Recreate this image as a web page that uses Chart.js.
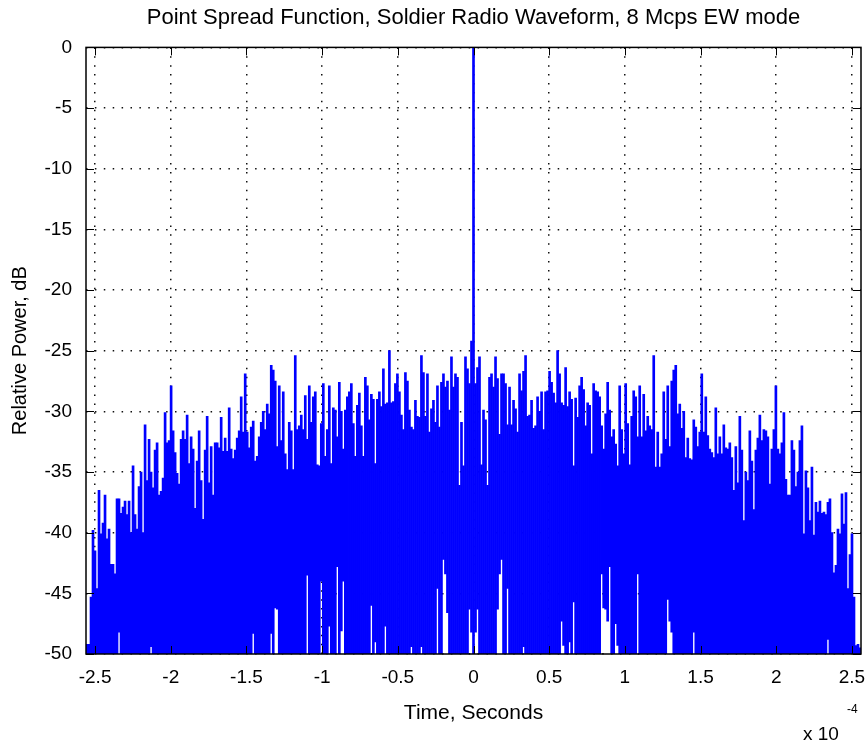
<!DOCTYPE html>
<html>
<head>
<meta charset="utf-8">
<title>Point Spread Function</title>
<script src="https://cdn.jsdelivr.net/npm/chart.js@4.4.1/dist/chart.umd.min.js"></script>
<style>
    html, body { margin: 0; padding: 0; background: #fff; }
    #wrap { width: 866px; height: 742px; }
</style>
</head>
<body>
<div id="wrap"><canvas id="psf"></canvas></div>
<script>
// time in units of 1e-4 s, power in dB
const timeMin = -2.56;
const timeMax = 2.56;
const timeTicks = [-2.5, -2, -1.5, -1, -0.5, 0, 0.5, 1, 1.5, 2, 2.5];
const powerTicks = [0, -5, -10, -15, -20, -25, -30, -35, -40, -45, -50];
const floorDb = -50;

// peak envelope, read left to right (about 2 px per sample)
const leftPeaks = [
    -49.2, -49.2, -45.3, -39.8, -41.5, -44.6, -36.5, -40.1, -39.2, -36.9,
    -40.5, -39.7, -42.6, -42.6, -43.4, -37.2, -37.2, -38.4, -37.9, -37.4,
    -38.5, -37.4, -40.0, -34.5, -38.5, -39.7, -36.2, -35.0, -40.0, -31.1,
    -35.7, -32.3, -35.0, -36.3, -33.2, -32.6, -36.9, -36.6, -35.5, -30.1,
    -32.6, -32.4, -27.9, -31.6, -33.4, -35.1, -36.0, -32.3, -31.6, -32.3,
    -30.3, -34.3, -32.1, -33.1, -38.0, -34.1, -31.6, -35.7, -38.9, -33.2,
    -30.4, -35.9, -32.9, -36.9, -32.6,
    -32.6, -33.0, -30.5, -33.3, -32.2, -33.3, -29.7, -33.1, -33.9, -33.2,
    -32.2, -31.6, -28.8, -31.7, -26.9, -31.7, -33.0, -31.3, -30.8, -34.1,
    -33.7, -32.1, -30.9, -30.0, -31.5, -29.4, -30.2, -26.2, -26.6, -27.5,
    -32.9, -27.9, -32.4, -28.4, -33.5, -34.8, -30.9, -31.6, -34.8, -25.4,
    -31.5, -31.2, -30.3, -31.5, -28.7, -32.3, -27.9, -30.9, -28.8, -28.4,
    -34.4, -34.5, -31.0, -27.7, -33.7, -31.5, -27.9, -34.3, -29.7, -29.9,
    -32.1, -27.6, -30.0, -33.1, -29.9,
    -28.8, -28.4, -27.7, -31.0, -33.7, -29.5, -28.5, -31.2, -33.7, -27.2,
    -27.9, -30.7, -28.6, -29.0, -34.3, -29.0, -28.4, -29.6, -26.5, -29.4,
    -29.3, -25.0, -29.3, -29.2, -27.7, -26.9, -28.4, -30.3, -31.5, -26.8,
    -27.5, -29.9, -31.3, -31.5, -29.1, -30.4, -30.5, -25.4, -26.8, -30.4,
    -26.9, -31.7, -29.8, -29.1, -30.9, -27.9, -31.3, -27.6, -26.9, -28.0,
    -27.5, -29.9, -25.5, -28.0, -26.9, -27.2, -36.1, -30.9, -34.5, -25.5,
    -26.5, -27.7, -24.2
];
const centrePeak = 0;
const rightPeaks = [
    -27.7, -26.4, -25.5, -34.4, -29.9, -30.7, -36.1, -27.2, -26.9, -28.0,
    -25.5, -27.3, -31.9, -26.9, -26.9, -27.7, -31.1, -28.0, -31.1, -29.1,
    -29.8, -31.7, -26.9, -28.3, -26.7, -25.4, -30.4, -30.3, -29.1, -31.4,
    -31.2, -28.8, -30.0, -28.4, -31.5, -28.4, -28.3, -26.7, -27.6, -28.5,
    -29.3, -25.0, -26.9, -29.3, -29.5, -26.4, -29.6, -28.4, -29.0, -34.5,
    -28.9, -30.5, -27.9, -27.2, -28.2, -31.2, -29.3, -29.5, -33.5, -27.7,
    -28.3, -28.4, -28.8, -31.2, -33.1, -30.2,
    -27.6, -29.9, -32.1, -31.5, -32.7, -34.5, -27.9, -31.5, -33.5, -27.7,
    -31.0, -34.4, -30.4, -28.3, -28.8, -32.1, -27.9, -32.1, -28.6, -31.6,
    -30.4, -31.2, -31.5, -25.4, -34.6, -31.7, -34.6, -33.5, -28.4, -32.3,
    -27.9, -32.9, -27.5, -26.6, -26.2, -30.2, -29.4, -31.4, -30.0, -33.8,
    -32.2, -33.9, -34.0, -30.7, -31.3, -32.9, -31.7, -26.9, -31.7, -28.8,
    -32.0, -33.1, -33.4, -33.8, -29.7, -33.5, -32.1, -33.5, -31.1, -33.0,
    -33.1, -32.6, -33.8, -36.5, -32.9,
    -35.9, -30.4, -33.2, -39.0, -35.0, -35.7, -31.6, -34.1, -38.1, -33.2,
    -32.2, -30.3, -32.4, -31.5, -31.6, -32.1, -36.0, -33.1, -31.5, -27.9,
    -33.1, -33.5, -32.6, -30.1, -35.6, -36.9, -36.9, -32.4, -33.2, -36.2,
    -35.0, -32.4, -31.2, -40.1, -34.9, -36.3, -39.0, -34.6, -40.2, -37.5,
    -38.3, -37.4, -38.4, -38.3, -38.5, -37.5, -37.2, -40.0, -43.3, -42.7,
    -39.7, -40.1, -36.8, -39.3, -36.7, -44.6, -41.8, -40.1, -45.3, -49.3,
    -49.2, -49.5
];

// samples whose trough stays above the floor (white notches at the bottom)
const notchIndex = [
    16, 32, 83, 92, 94, 95, 110, 117, 121, 125, 127, 128, 142, 144, 149,
    162, 167, 175, 178, 179, 180, 191, 192,
    194, 195, 205, 206, 207, 210, 218, 237, 238, 241, 243, 257, 258, 259,
    260, 261, 264, 265, 275, 290, 291, 292, 303, 370
];
const notchFloor = [
    -48.2, -49.4, -48.3, -48.3, -46.2, -46.3, -43.5, -44.0, -47.7, -42.8, -48.1, -44.0, -46.0, -49.0, -47.7,
    -49.4, -49.4, -44.6, -42.2, -43.4, -46.6, -46.3, -48.2,
    -48.2, -46.3, -46.3, -43.4, -42.2, -44.6, -49.4, -47.3, -49.3, -49.0, -45.7, -43.4, -46.2, -46.3,
    -47.3, -42.8, -47.5, -49.3, -43.4, -45.5, -47.3, -48.2, -48.2, -48.8
];

const peaks = [...leftPeaks, centrePeak, ...rightPeaks];
const lows = peaks.map(() => floorDb);
notchIndex.forEach((idx, k) => { lows[idx] = notchFloor[k]; });
const bars = peaks.map((p, i) => [lows[i], p]);

const FONT = "'Liberation Sans', Arial, Helvetica, sans-serif";

// MATLAB-style box with inward ticks, plus the x10^-4 exponent
const axesBox = {
    id: "axesBox",
    afterDraw(chart) {
        const { ctx, chartArea: a, scales } = chart;
        ctx.save();
        ctx.strokeStyle = "#000";
        ctx.lineWidth = 1.5;
        ctx.strokeRect(a.left, a.top, a.right - a.left, a.bottom - a.top);
        ctx.beginPath();
        timeTicks.forEach((v) => {
            const x = Math.round(scales.time.getPixelForValue(v)) + 0.5;
            ctx.moveTo(x, a.bottom); ctx.lineTo(x, a.bottom - 8);
            ctx.moveTo(x, a.top); ctx.lineTo(x, a.top + 8);
        });
        powerTicks.forEach((v) => {
            const y = Math.round(scales.y.getPixelForValue(v)) + 0.5;
            ctx.moveTo(a.left, y); ctx.lineTo(a.left + 8, y);
            ctx.moveTo(a.right, y); ctx.lineTo(a.right - 8, y);
        });
        ctx.lineWidth = 1;
        ctx.stroke();

        ctx.fillStyle = "#000";
        ctx.textAlign = "left";
        ctx.textBaseline = "alphabetic";
        ctx.font = "19px " + FONT;
        ctx.fillText("x 10", 803, 740);
        ctx.font = "12px " + FONT;
        ctx.fillText("-4", 847, 713);
        ctx.restore();
    },
};

const gridStyle = { color: "#111", lineWidth: 1.5, drawTicks: false, offset: false };
const dotted = { display: false, dash: [1.5, 7.4] };

new Chart(document.getElementById("psf"), {
    type: "bar",
    data: {
        labels: peaks.map((_, i) => i),
        datasets: [
            {
                data: bars,
                backgroundColor: "#0000ff",
                borderWidth: 0,
                barPercentage: 1,
                categoryPercentage: 1,
            },
        ],
    },
    options: {
        responsive: true,
        maintainAspectRatio: false,
        animation: false,
        devicePixelRatio: 1,
        layout: { padding: { left: 0, right: 5, top: 0, bottom: 0 } },
        plugins: {
            legend: { display: false },
            tooltip: { enabled: false },
            title: {
                display: true,
                fullSize: false,
                text: "Point Spread Function, Soldier Radio Waveform, 8 Mcps EW mode",
                color: "#000",
                font: { family: FONT, size: 22, weight: "normal" },
                padding: { top: 5, bottom: 16 },
            },
        },
        scales: {
            x: { type: "category", display: false, offset: true },
            time: {
                type: "linear",
                position: "bottom",
                offset: false,
                min: timeMin,
                max: timeMax,
                afterBuildTicks: (s) => { s.ticks = timeTicks.map((v) => ({ value: v })); },
                afterFit: (s) => {
                    s.height = 88;
                    s.paddingLeft = 0;
                    s.paddingRight = 0;
                },
                grid: gridStyle,
                border: dotted,
                ticks: {
                    color: "#000",
                    padding: 12,
                    maxRotation: 0,
                    autoSkip: false,
                    font: { family: FONT, size: 19 },
                    callback: (v) => String(v),
                },
                title: {
                    display: true,
                    text: "Time, Seconds",
                    color: "#000",
                    font: { family: FONT, size: 21 },
                    padding: { top: 0, bottom: 16 },
                },
            },
            y: {
                min: floorDb,
                max: 0,
                afterBuildTicks: (s) => { s.ticks = powerTicks.map((v) => ({ value: v })); },
                afterFit: (s) => {
                    s.width = 86;
                    s.paddingTop = 0;
                    s.paddingBottom = 0;
                },
                grid: gridStyle,
                border: dotted,
                ticks: {
                    color: "#000",
                    padding: 14,
                    font: { family: FONT, size: 19 },
                    callback: (v) => String(v),
                },
                title: {
                    display: true,
                    text: "Relative Power, dB",
                    color: "#000",
                    font: { family: FONT, size: 20 },
                    padding: { top: 8, bottom: 0 },
                },
            },
        },
    },
    plugins: [axesBox],
});
</script>
</body>
</html>
